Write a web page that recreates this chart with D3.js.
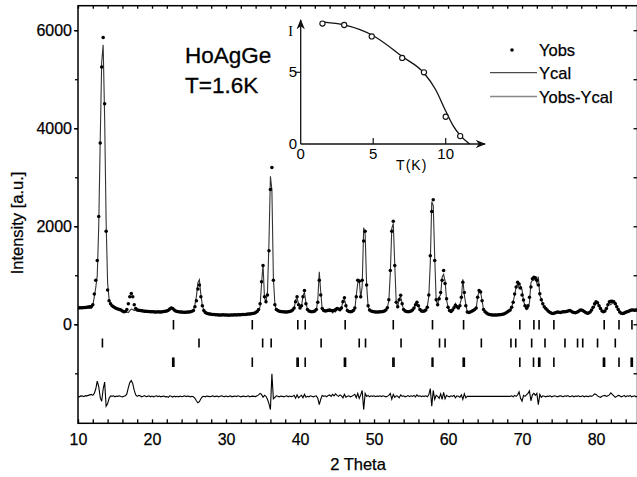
<!DOCTYPE html>
<html>
<head>
<meta charset="utf-8">
<script src="https://cdn.jsdelivr.net/npm/d3@7"></script>
<style>
  body { margin: 0; background: #fff; }
  svg { display: block; font-family: "Liberation Sans", Arial, sans-serif; }
</style>
</head>
<body>
<div id="chart"></div>
<script>
// observed intensity, 2theta from 10.0 step 0.2
var start2T = 10.0, step2T = 0.2;
var yObs = [
  330, 335, 335, 340, 345, 345, 350, 355, 360, 365,
  400, 620, 900, 1300, 2200, 3700, 5250, 5850, 4500, 1900,
  700, 480, 420, 380, 360, 340, 320, 310, 300, 290,
  270, 255, 260, 300, 420, 560, 630, 560, 400, 320,
  290, 285, 280, 275, 270, 265, 265, 260, 260, 255,
  255, 255, 250, 250, 255, 250, 250, 255, 260, 265,
  270, 285, 310, 330, 320, 290, 270, 260, 255, 250,
  250, 245, 245, 245, 250, 250, 255, 265, 280, 360,
  480, 720, 800, 560, 380, 280, 240, 225, 215, 210,
  205, 200, 200, 195, 195, 190, 190, 190, 195, 190,
  190, 190, 185, 190, 190, 190, 195, 190, 195, 195,
  195, 200, 200, 200, 205, 210, 210, 215, 220, 225,
  240, 260, 300, 420, 870, 1200, 560, 460, 600, 1500,
  2750, 3200, 900, 400, 300, 280, 265, 260, 255, 255,
  250, 250, 255, 260, 270, 290, 330, 460, 560, 400,
  330, 380, 560, 690, 420, 300, 270, 260, 255, 260,
  270, 300, 450, 900, 600, 320, 280, 270, 275, 285,
  290, 280, 275, 280, 300, 320, 310, 300, 330, 460,
  540, 380, 280, 260, 255, 260, 280, 330, 560, 900,
  880, 560, 900, 1700, 1900, 800, 380, 290, 270, 260,
  255, 250, 250, 250, 255, 255, 260, 270, 290, 340,
  500, 1100, 1900, 2100, 1200, 450, 360, 500, 590, 420,
  300, 270, 260, 255, 260, 270, 290, 330, 400, 450,
  380, 300, 270, 265, 270, 290, 350, 600, 1400, 2300,
  2540, 1300, 500, 400, 520, 650, 900, 1100, 830, 520,
  350, 280, 260, 290, 340, 390, 360, 330, 380, 550,
  860, 650, 380, 250, 240, 250, 265, 280, 300, 330,
  550, 690, 660, 480, 300, 255, 230, 210, 200, 195,
  190, 190, 190, 190, 195, 195, 200, 205, 215, 230,
  250, 270, 290, 350, 450, 620, 760, 860, 820, 740,
  600, 495, 380, 330, 380, 550, 760, 930, 960, 950,
  900, 800, 625, 500, 420, 360, 320, 290, 260, 240,
  225, 220, 230, 240, 250, 245, 240, 250, 255, 255,
  260, 270, 280, 270, 250, 240, 235, 245, 260, 285,
  290, 280, 260, 240, 225, 230, 250, 290, 350, 420,
  460, 440, 380, 320, 270, 255, 270, 320, 400, 460,
  470, 470, 460, 420, 360, 300, 250, 225, 220, 230,
  245, 255, 265, 280, 290, 290, 285, 290, 290
];
// Yobs - Ycal, same grid
var yDiff = [
  0, -10, 10, 5, -5, 15, 10, 20, 30, 40,
  20, 60, 150, 310, 200, -20, -100, 150, 290, -200,
  -150, -40, 10, 0, 10, -10, 5, 0, 10, -5,
  -10, 0, 10, 50, 180, 280, 320, 260, 120, 30,
  0, 20, 10, -10, 0, 15, -5, 0, 10, -10,
  5, -10, 0, 10, -5, 5, -10, 0, 5, -10,
  -5, -20, 10, 0, -15, 5, -10, 0, -10, 5,
  -5, 0, 10, -5, 5, 0, -10, 0, -10, -40,
  -90, -130, -110, -50, -10, 0, -10, 5, 0, -5,
  0, 10, -5, 0, 5, -10, 0, 10, 0, -5,
  5, -5, 0, 10, -10, 0, 5, -5, 10, 0,
  -10, 0, 5, -5, 0, 10, -10, 0, 5, 0,
  -5, 10, 30, 60, 40, -20, 20, 0, -60, -150,
  -270, 460, -50, -20, 10, 0, -10, 5, 0, -10,
  0, 10, -10, 5, -5, 0, 20, -40, 30, -30,
  0, 20, -30, 40, -20, 0, -10, 10, 0, -10,
  0, 10, -40, -170, -60, 20, 0, 10, -10, 20,
  30, 0, 40, 10, 50, 20, 0, 30, 10, -30,
  40, -20, 0, 10, -10, 0, 20, 40, -30, 60,
  -40, 30, 120, -270, 60, 0, 20, -10, 10, 0,
  10, -5, 5, 0, 10, -5, 10, 0, -10, 0,
  20, 60, -60, 40, -20, 10, 0, -30, 30, 0,
  10, -10, 0, 15, -5, 10, 0, 20, -10, 30,
  0, 10, -5, 5, 0, 10, -10, 30, 160, -200,
  120, -60, 20, 0, -40, 50, -60, 80, -50, 20,
  0, -10, 10, 0, 20, -30, 10, 0, -20, 30,
  -60, 50, -30, 0, 0, 0, 0, 0, 0, 0,
  0, 0, 0, 0, 0, 0, 0, 0, 0, 0,
  0, 0, 0, 0, 0, 0, 0, 0, 0, 0,
  0, 0, 0, 10, -10, 20, 0, 30, 90, -40,
  -100, 20, 0, 30, 60, 110, -90, 30, 60, 20,
  60, -170, 40, -20, 10, 0, -10, 5, 0, 10,
  -10, 0, 10, 0, -10, 5, 10, 0, -5, 10,
  0, 15, -5, 0, 10, -10, 5, 0, 10, -5,
  0, 10, -10, 5, 0, -5, 10, 0, 20, 50,
  40, 10, -10, -20, 0, 10, 20, 0, 10, 30,
  70, 40, 10, -20, 0, 20, 10, -10, 0, 20,
  -10, 10, 0, 20, -10, 0, 10, -10, 5
];
var diffOffset = -1470;

// Bragg reflection positions (three phases)
var bragg1 = [22.9, 33.55, 39.7, 40.7, 46.1, 52.6, 57.9, 62.1, 69.7, 71.6, 72.3, 74.3, 81.1, 83.1, 84.85];
var bragg2 = [13.3, 26.35, 34.95, 36.1, 42.85, 48.0, 48.85, 53.65, 58.85, 59.6, 64.5, 68.5, 69.15, 71.3, 73.1, 75.8, 77.5, 78.2, 80.2, 82.6];
var bragg3 = [22.8, 22.95, 33.55, 39.6, 39.75, 40.7, 46.0, 46.15, 52.55, 52.7, 57.85, 57.95, 62.05, 62.2,
              69.7, 71.55, 72.25, 72.4, 74.3, 81.0, 81.15, 83.1, 84.75, 84.9];

var xTicks = [10, 20, 30, 40, 50, 60, 70, 80];
var yTicks = [0, 2000, 4000, 6000];

// inset: magnetic intensity vs temperature
var insetT = [1.5, 3.0, 4.9, 7.0, 8.5, 10.0, 11.0];
var insetI = [8.4, 8.3, 7.5, 6.0, 5.0, 1.9, 0.55];
var fitT = [1.6, 3.0, 5.0, 7.0, 8.5, 9.3, 10.0, 10.5, 11.0, 11.65];
var fitI = [8.5, 8.3, 7.55, 6.1, 4.95, 3.8, 2.3, 1.3, 0.6, 0.0];
var insetXTicks = [0, 5, 10];
var insetYTicks = [0, 5];

var legendItems = ["Yobs", "Ycal", "Yobs-Ycal"];

var W = 637, H = 477;
var svg = d3.select("#chart").append("svg").attr("width", W).attr("height", H);
svg.append("rect").attr("width", W).attr("height", H).attr("fill", "#fff");

var x = d3.scaleLinear().domain([10, 85.6]).range([78, 637.5]);
var y = d3.scaleLinear().domain([-2020, 6500]).range([423.3, 5.7]);

var pts = yObs.map(function(v, i) {
  var t = start2T + i * step2T;
  return { t: t, obs: v, diff: yDiff[i], cal: v - yDiff[i] };
});

// frame
svg.append("rect").attr("x", x(10)).attr("y", y(6500))
  .attr("width", x(85.6) - x(10)).attr("height", y(-2020) - y(6500))
  .attr("fill", "none").attr("stroke", "#000").attr("stroke-width", 1.5);

// axes
var gx = svg.append("g").attr("transform", "translate(0," + y(-2020) + ")")
  .call(d3.axisBottom(x).tickValues(xTicks).tickSize(0).tickPadding(10).tickFormat(d3.format("d")));
gx.select(".domain").remove();
var minorX = d3.range(10, 86, 2);
svg.append("g").attr("transform", "translate(0," + y(-2020) + ")")
  .call(d3.axisTop(x).tickValues(minorX).tickSize(4).tickFormat(""))
  .select(".domain").remove();
svg.append("g").attr("transform", "translate(0," + y(6500) + ")")
  .call(d3.axisBottom(x).tickValues(minorX).tickSize(3).tickFormat(""))
  .select(".domain").remove();

var gy = svg.append("g").attr("transform", "translate(" + x(10) + ",0)")
  .call(d3.axisLeft(y).tickValues(yTicks).tickSize(4).tickPadding(2).tickFormat(d3.format("d")));
gy.select(".domain").remove();
var minorY = d3.range(-1000, 6500, 1000);
svg.append("g").attr("transform", "translate(" + x(10) + ",0)")
  .call(d3.axisLeft(y).tickValues(minorY).tickSize(3).tickFormat(""))
  .select(".domain").remove();
svg.append("g").attr("transform", "translate(" + x(85.6) + ",0)")
  .call(d3.axisLeft(y).tickValues(minorY).tickSize(4).tickFormat(""))
  .select(".domain").remove();

svg.selectAll(".tick line").attr("stroke", "#000").attr("stroke-width", 1.3);
svg.selectAll(".tick text").attr("fill", "#000").style("font-size", "16px")
  .style("font-family", "'Liberation Sans', Arial, sans-serif")
  .attr("stroke", "#000").attr("stroke-width", 0.25);

// axis titles
svg.append("text").attr("x", 358).attr("y", 470).attr("text-anchor", "middle")
  .style("font-size", "16.5px").attr("stroke", "#000").attr("stroke-width", 0.25).text("2 Theta");
svg.append("text").attr("transform", "translate(23,223) rotate(-90)").attr("text-anchor", "middle")
  .style("font-size", "16.5px").attr("stroke", "#000").attr("stroke-width", 0.25).text("Intensity [a.u.]");

// calculated line
var clipId = "plotclip";
svg.append("clipPath").attr("id", clipId).append("rect")
  .attr("x", x(10)).attr("y", y(6500)).attr("width", x(85.6) - x(10)).attr("height", y(-2020) - y(6500));
var plot = svg.append("g").attr("clip-path", "url(#" + clipId + ")");

plot.append("path").datum(pts)
  .attr("d", d3.line().x(function(d) { return x(d.t); }).y(function(d) { return y(d.cal); }))
  .attr("fill", "none").attr("stroke", "#333").attr("stroke-width", 1.1);

// observed dots
plot.selectAll("circle.obs").data(pts).enter().append("circle")
  .attr("class", "obs")
  .attr("cx", function(d) { return x(d.t); })
  .attr("cy", function(d) { return y(d.obs); })
  .attr("r", 1.75).attr("fill", "#000");

// difference curve
plot.append("path").datum(pts)
  .attr("d", d3.line().x(function(d) { return x(d.t); }).y(function(d) { return y(d.diff + diffOffset); }))
  .attr("fill", "none").attr("stroke", "#000").attr("stroke-width", 1.1);

// bragg ticks
function braggRow(data, y0, y1, cls) {
  plot.selectAll("line." + cls).data(data).enter().append("line")
    .attr("class", cls)
    .attr("x1", function(d) { return x(d); }).attr("x2", function(d) { return x(d); })
    .attr("y1", y0).attr("y2", y1)
    .attr("stroke", "#000").attr("stroke-width", 1.6);
}
braggRow(bragg1, 320, 329.5, "b1");
braggRow(bragg2, 338.5, 347.5, "b2");
braggRow(bragg3, 357.5, 367, "b3");

// labels
svg.append("text").attr("x", 185).attr("y", 63).style("font-size", "22.5px").attr("stroke", "#000").attr("stroke-width", 0.3).text("HoAgGe");
svg.append("text").attr("x", 185).attr("y", 93).style("font-size", "22.5px").attr("stroke", "#000").attr("stroke-width", 0.3).text("T=1.6K");

// legend
var lg = svg.append("g");
lg.append("circle").attr("cx", 512).attr("cy", 50).attr("r", 1.8).attr("fill", "#000");
lg.append("line").attr("x1", 490).attr("x2", 537).attr("y1", 72.7).attr("y2", 72.7).attr("stroke", "#222").attr("stroke-width", 1);
lg.append("line").attr("x1", 490).attr("x2", 537).attr("y1", 96.5).attr("y2", 96.5).attr("stroke", "#888").attr("stroke-width", 1.3);
lg.selectAll("text").data(legendItems).enter().append("text")
  .attr("x", 539).attr("y", function(d, i) { return 55.5 + i * 23.5; })
  .style("font-size", "16.5px").attr("stroke", "#000").attr("stroke-width", 0.25).text(function(d) { return d; });

// inset
var ix = d3.scaleLinear().domain([0, 10]).range([300.7, 445.7]);
var iy = d3.scaleLinear().domain([0, 5]).range([144, 72.3]);
var inset = svg.append("g");
inset.append("defs").append("marker").attr("id", "arr").attr("viewBox", "0 0 10 10")
  .attr("refX", 9).attr("refY", 5).attr("markerWidth", 8).attr("markerHeight", 8)
  .attr("orient", "auto").append("path").attr("d", "M0,1 L10,5 L0,9 L3,5 Z").attr("fill", "#111");
inset.append("line").attr("x1", ix(0)).attr("x2", 485).attr("y1", iy(0)).attr("y2", iy(0))
  .attr("stroke", "#111").attr("stroke-width", 1.3).attr("marker-end", "url(#arr)");
inset.append("line").attr("x1", ix(0)).attr("x2", ix(0)).attr("y1", iy(0)).attr("y2", 20)
  .attr("stroke", "#111").attr("stroke-width", 1.3).attr("marker-end", "url(#arr)");
inset.selectAll("line.ixt").data(insetXTicks.slice(1)).enter().append("line").attr("class", "ixt")
  .attr("x1", function(d) { return ix(d); }).attr("x2", function(d) { return ix(d); })
  .attr("y1", iy(0)).attr("y2", iy(0) - 6).attr("stroke", "#111").attr("stroke-width", 1.2);
inset.selectAll("line.iyt").data(insetYTicks.slice(1)).enter().append("line").attr("class", "iyt")
  .attr("x1", ix(0) - 5).attr("x2", ix(0)).attr("y1", function(d) { return iy(d); })
  .attr("y2", function(d) { return iy(d); }).attr("stroke", "#111").attr("stroke-width", 1.2);
inset.selectAll("text.ixl").data(insetXTicks).enter().append("text").attr("class", "ixl")
  .attr("x", function(d) { return ix(d); }).attr("y", 158.5).attr("text-anchor", "middle")
  .style("font-size", "15px").text(function(d) { return d; });
inset.selectAll("text.iyl").data(insetYTicks).enter().append("text").attr("class", "iyl")
  .attr("x", 293).attr("y", function(d) { return iy(d) + 5; }).attr("text-anchor", "middle")
  .style("font-size", "15px").text(function(d) { return d; });
inset.append("text").attr("x", 411.7).attr("y", 169.5).attr("text-anchor", "middle")
  .style("font-size", "14px").style("letter-spacing", "1px").text("T(K)");
inset.append("text").attr("x", 290.5).attr("y", 36).attr("text-anchor", "middle")
  .style("font-family", "'Liberation Serif', serif").style("font-size", "14px").text("I");

var fit = fitT.map(function(t, i) { return [t, fitI[i]]; });
inset.append("path").datum(fit)
  .attr("d", d3.line().curve(d3.curveMonotoneX).x(function(d) { return ix(d[0]); }).y(function(d) { return iy(d[1]); }))
  .attr("fill", "none").attr("stroke", "#111").attr("stroke-width", 1.3);
inset.selectAll("circle.ip").data(insetT).enter().append("circle").attr("class", "ip")
  .attr("cx", function(d) { return ix(d); })
  .attr("cy", function(d, i) { return iy(insetI[i]); })
  .attr("r", 2.6).attr("fill", "#fff").attr("stroke", "#111").attr("stroke-width", 1.1);
</script>
</body>
</html>
